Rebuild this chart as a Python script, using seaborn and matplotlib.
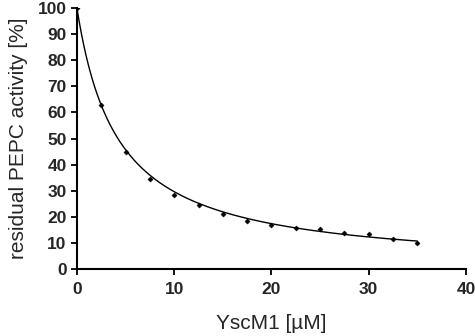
import numpy as np
import pandas as pd
import matplotlib
matplotlib.use("Agg")
import matplotlib.pyplot as plt
import seaborn as sns

conc_um = [0, 2.5, 5, 7.5, 10, 12.5, 15, 17.5, 20, 22.5, 25, 27.5, 30, 32.5, 35]
activity_pct = [100, 62.8, 44.7, 34.7, 28.3, 24.5, 21.0, 18.6, 16.9, 15.6, 15.2, 13.9, 13.3, 11.4, 10.2]

df = pd.DataFrame({"conc": conc_um, "activity": activity_pct})

# hyperbolic inhibition fit: activity = 100 / (1 + x / IC50)
x = df["conc"].to_numpy()[1:]
y = df["activity"].to_numpy()[1:]
z = 100.0 / y - 1.0
ic50 = np.sum(x * x) / np.sum(x * z)
fit_x = np.linspace(0, max(conc_um), 300)
fit = pd.DataFrame({"conc": fit_x, "activity": 100.0 / (1 + fit_x / ic50)})

sns.set_style("ticks")
plt.rcParams["font.family"] = ["Liberation Sans", "DejaVu Sans"]

fig = plt.figure(figsize=(4.75, 3.36), dpi=100)
ax = fig.add_axes([0.162, 0.199, 0.819, 0.777])

sns.lineplot(data=fit, x="conc", y="activity", color="black", linewidth=1.0, ax=ax)
sns.scatterplot(data=df, x="conc", y="activity", color="black", s=7,
                marker="D", edgecolor="black", linewidth=0.3, ax=ax, zorder=3)

ax.set_xlim(0, 40)
ax.set_ylim(0, 100)
ax.set_xticks(range(0, 41, 10))
ax.set_yticks(range(0, 101, 10))
ax.set_xlabel("YscM1 [µM]", fontsize=15, labelpad=12)
ax.set_ylabel("residual PEPC activity [%]", fontsize=15, labelpad=7)
ax.tick_params(axis="both", labelsize=12.5, width=1.3, length=4.5, color="black")
ax.tick_params(axis="x", pad=5)
ax.tick_params(axis="y", pad=3)
for lab in ax.get_xticklabels() + ax.get_yticklabels():
    lab.set_fontweight("bold")
for s in ["left", "bottom"]:
    ax.spines[s].set_linewidth(1.5)
    ax.spines[s].set_color("black")
sns.despine(ax=ax)

fig.savefig("out.png", dpi=100)
